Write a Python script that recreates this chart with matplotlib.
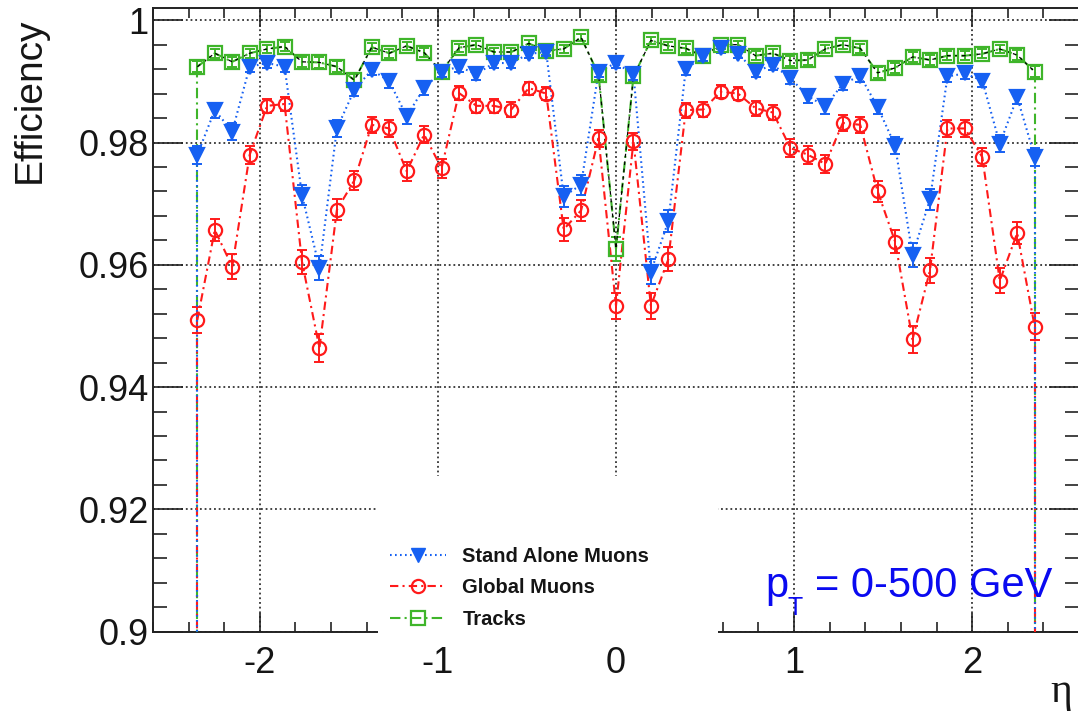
import numpy as np
import matplotlib
matplotlib.use('Agg')
import matplotlib.pyplot as plt
from matplotlib.lines import Line2D
from matplotlib.patches import Rectangle
from matplotlib.ticker import MultipleLocator, FuncFormatter

plt.rcParams['font.family'] = ['Liberation Sans', 'DejaVu Sans']
plt.rcParams['axes.unicode_minus'] = False

# 49 eta bins between -2.4 and 2.4, points at the bin centres
eta_edges = np.linspace(-2.4, 2.4, 50)
eta = 0.5 * (eta_edges[:-1] + eta_edges[1:])

# Stand alone muons
sa_eff = [0.9780, 0.9853, 0.9818, 0.9924, 0.9930, 0.9924, 0.9714, 0.9595, 0.9823, 0.9886,
          0.9919, 0.9900, 0.9843, 0.9889, 0.9916, 0.9924, 0.9912, 0.9930, 0.9930, 0.9945,
          0.9948, 0.9712, 0.9731, 0.9916, 0.9930, 0.9912, 0.9589, 0.9671, 0.9920, 0.9941,
          0.9954, 0.9945, 0.9916, 0.9927, 0.9905, 0.9876, 0.9859, 0.9896, 0.9909, 0.9858,
          0.9795, 0.9616, 0.9707, 0.9908, 0.9913, 0.9901, 0.9798, 0.9874, 0.9777]
sa_err = [0.00148, 0.00122, 0.00135, 0.00088, 0.00084, 0.00088, 0.00168, 0.00199, 0.00133, 0.00107,
          0.00091, 0.00101, 0.00126, 0.00106, 0.00091, 0.00088, 0.00093, 0.00084, 0.00084, 0.00075,
          0.00073, 0.00169, 0.00163, 0.00091, 0.00084, 0.00093, 0.00201, 0.00180, 0.00090, 0.00077,
          0.00068, 0.00075, 0.00091, 0.00085, 0.00096, 0.00111, 0.00118, 0.00103, 0.00095, 0.00119,
          0.00143, 0.00194, 0.00170, 0.00095, 0.00093, 0.00100, 0.00142, 0.00111, 0.00148]

# Global muons
gl_eff = [0.9510, 0.9657, 0.9597, 0.9780, 0.9860, 0.9863, 0.9605, 0.9464, 0.9690, 0.9738,
          0.9829, 0.9823, 0.9753, 0.9813, 0.9758, 0.9881, 0.9860, 0.9860, 0.9854, 0.9889,
          0.9880, 0.9658, 0.9689, 0.9807, 0.9533, 0.9802, 0.9533, 0.9609, 0.9853, 0.9854,
          0.9883, 0.9880, 0.9856, 0.9849, 0.9791, 0.9780, 0.9765, 0.9832, 0.9829, 0.9720,
          0.9638, 0.9478, 0.9591, 0.9823, 0.9823, 0.9776, 0.9574, 0.9652, 0.9499]
gl_err = [0.00218, 0.00184, 0.00199, 0.00148, 0.00117, 0.00116, 0.00197, 0.00227, 0.00175, 0.00161,
          0.00131, 0.00133, 0.00157, 0.00136, 0.00156, 0.00108, 0.00117, 0.00117, 0.00120, 0.00106,
          0.00109, 0.00184, 0.00175, 0.00139, 0.00215, 0.00141, 0.00215, 0.00196, 0.00122, 0.00120,
          0.00108, 0.00109, 0.00119, 0.00123, 0.00145, 0.00148, 0.00154, 0.00130, 0.00131, 0.00166,
          0.00189, 0.00225, 0.00200, 0.00133, 0.00133, 0.00149, 0.00204, 0.00185, 0.00220]

# Tracks
tk_eff = [0.9924, 0.9946, 0.9932, 0.9946, 0.9953, 0.9957, 0.9932, 0.9931, 0.9924, 0.9902,
          0.9956, 0.9946, 0.9958, 0.9947, 0.9916, 0.9955, 0.9960, 0.9948, 0.9948, 0.9962,
          0.9950, 0.9953, 0.9972, 0.9911, 0.9626, 0.9908, 0.9967, 0.9958, 0.9954, 0.9941,
          0.9960, 0.9960, 0.9942, 0.9946, 0.9934, 0.9935, 0.9953, 0.9960, 0.9954, 0.9914,
          0.9922, 0.9940, 0.9935, 0.9942, 0.9942, 0.9945, 0.9953, 0.9943, 0.9916]
tk_err = [0.00088, 0.00074, 0.00083, 0.00074, 0.00069, 0.00066, 0.00083, 0.00084, 0.00088, 0.00100,
          0.00067, 0.00074, 0.00065, 0.00073, 0.00091, 0.00068, 0.00064, 0.00073, 0.00073, 0.00062,
          0.00071, 0.00069, 0.00053, 0.00094, 0.00192, 0.00096, 0.00058, 0.00065, 0.00068, 0.00077,
          0.00064, 0.00064, 0.00076, 0.00074, 0.00082, 0.00081, 0.00069, 0.00064, 0.00068, 0.00092,
          0.00088, 0.00078, 0.00081, 0.00076, 0.00076, 0.00075, 0.00069, 0.00076, 0.00091]

labels = ['Stand Alone Muons', 'Global Muons', 'Tracks']

blue = '#1660f2'
red = '#ff1a1a'
green = '#3fb52a'
sa_ls = (0, (0.8, 1.6))
gl_ls = (0, (4, 2, 1, 2))
tk_ls = (0, (5, 2, 1, 2))

fig = plt.figure(figsize=(10.78, 7.13), dpi=100)
ax = fig.add_axes([153 / 1078, (713 - 631.7) / 713, 926 / 1078, 623.7 / 713])
ax.set_xlim(-2.6, 2.6)
ax.set_ylim(0.9, 1.002)


def draw_series(vals, errs, color, ls, marker, ms, filled):
    # error bars, connecting line and the drop to zero at both ends
    ax.errorbar(eta, vals, yerr=errs, fmt='none', ecolor=color, elinewidth=1.4,
                capsize=3.5, capthick=1.4, zorder=3)
    ax.plot(eta, vals, color=color, linestyle=ls, lw=1.5, zorder=3)
    for i in (0, -1):
        ax.plot([eta[i], eta[i]], [vals[i], 0.0], color=color, linestyle=ls, lw=1.5, zorder=3)
    ax.plot(eta, vals, linestyle='none', marker=marker, ms=ms, mec=color, mew=1.6,
            mfc=color if filled else 'none', zorder=4)


draw_series(tk_eff, tk_err, green, tk_ls, 's', 9.5, False)
# thin black dashed trace running along the track curve
ax.plot(eta, tk_eff, color='black', linestyle=(0, (3, 3)), lw=0.9, zorder=3)
draw_series(gl_eff, gl_err, red, gl_ls, 'o', 9.5, False)
draw_series(sa_eff, sa_err, blue, sa_ls, 'v', 10, True)

# axes, ticks and grid in the usual ROOT style
ax.xaxis.set_major_locator(MultipleLocator(1))
ax.xaxis.set_minor_locator(MultipleLocator(0.2))
ax.yaxis.set_major_locator(MultipleLocator(0.02))
ax.yaxis.set_minor_locator(MultipleLocator(0.004))
ax.yaxis.set_major_formatter(FuncFormatter(lambda v, p: f'{round(v, 3):g}'))
ax.xaxis.set_major_formatter(FuncFormatter(lambda v, p: f'{round(v):d}'))

ax.tick_params(which='both', direction='in', top=True, right=True, width=1.2,
               color='#222222', labelcolor='#151515', labelsize=26)
ax.tick_params(axis='y', which='major', length=21.5, pad=3)
ax.tick_params(axis='y', which='minor', length=10)
ax.tick_params(axis='x', which='major', length=13.5, pad=10)
ax.tick_params(axis='x', which='minor', length=7)
for s in ax.spines.values():
    s.set_linewidth(1.4)
    s.set_color('#222222')

ax.grid(True, which='major', linestyle=(0, (1, 1.6)), color='#333333', lw=1.3)
ax.set_axisbelow(True)

# white legend pad that also hides the axis line behind it
ax.add_patch(Rectangle((0.243, -0.015), 0.367, 0.265, transform=ax.transAxes,
                       facecolor='white', edgecolor='none', clip_on=False, zorder=5))

handles = [
    Line2D([], [], color=blue, linestyle=sa_ls, lw=1.5, marker='v', ms=10, mfc=blue, mec=blue),
    Line2D([], [], color=red, linestyle=gl_ls, lw=1.5, marker='o', ms=9.5, mfc='none', mec=red, mew=1.6),
    Line2D([], [], color=green, linestyle=tk_ls, lw=1.5, marker='s', ms=9.5, mfc='none', mec=green, mew=1.6),
]
leg = ax.legend(handles, labels, loc='upper left', bbox_to_anchor=(390 / 1078, 1 - 547 / 713),
                bbox_transform=fig.transFigure, frameon=False, borderpad=0, borderaxespad=0,
                handlelength=2.8, handletextpad=0.8, labelspacing=0.62, numpoints=1,
                prop={'size': 14.5, 'weight': 'bold'})
leg.set_zorder(6)
for t in leg.get_texts():
    t.set_color('#151515')

# axis titles
fig.text(30 / 1078, 1 - 100 / 713, 'Efficiency', rotation=90, ha='center', va='center',
         fontsize=28, color='#151515')
fig.text(1061 / 1078, 1 - 692 / 713, 'η', family=['Liberation Serif', 'DejaVu Serif'],
         ha='center', va='center', fontsize=30, color='#151515')

# momentum range annotation
ptc = '#0a0af0'
fig.text(765 / 1078, 1 - 597 / 713, 'p', fontsize=30, color=ptc, va='baseline')
fig.text(787 / 1078, 1 - 615 / 713, 'T', fontsize=18, color=ptc, va='baseline')
fig.text(815 / 1078, 1 - 597 / 713, '= 0-500 GeV', fontsize=30, color=ptc, va='baseline')

fig.savefig('out.png', dpi=100, facecolor='white')
